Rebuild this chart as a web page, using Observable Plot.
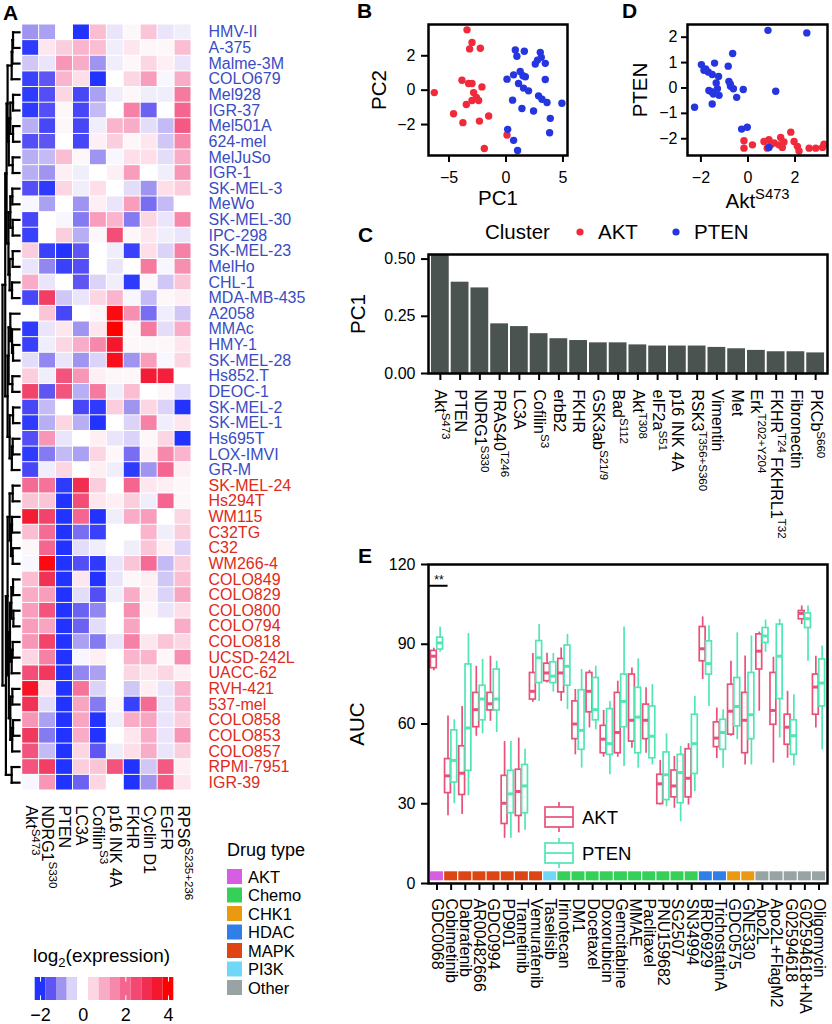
<!DOCTYPE html>
<html><head><meta charset="utf-8">
<script src="https://cdn.jsdelivr.net/npm/d3@7"></script>
<script src="https://cdn.jsdelivr.net/npm/@observablehq/plot@0.6"></script>
<style>
body{margin:0;background:#fff;}
#fig{position:relative;width:832px;height:1024px;overflow:hidden;background:#fff;font-family:"Liberation Sans",Arial,Helvetica,sans-serif;}
</style></head><body><div id="fig"></div>
<script>
// ---------------- DATA ----------------
const cellLines = ["HMV-II","A-375","Malme-3M","COLO679","Mel928","IGR-37","Mel501A","624-mel","MelJuSo","IGR-1","SK-MEL-3","MeWo","SK-MEL-30","IPC-298","SK-MEL-23","MelHo","CHL-1","MDA-MB-435","A2058","MMAc","HMY-1","SK-MEL-28","Hs852.T","DEOC-1","SK-MEL-2","SK-MEL-1","Hs695T","LOX-IMVI","GR-M","SK-MEL-24","Hs294T","WM115","C32TG","C32","WM266-4","COLO849","COLO829","COLO800","COLO794","COLO818","UCSD-242L","UACC-62","RVH-421","537-mel","COLO858","COLO853","COLO857","RPMI-7951","IGR-39"];
const lineCluster = ["PTEN","PTEN","PTEN","PTEN","PTEN","PTEN","PTEN","PTEN","PTEN","PTEN","PTEN","PTEN","PTEN","PTEN","PTEN","PTEN","PTEN","PTEN","PTEN","PTEN","PTEN","PTEN","PTEN","PTEN","PTEN","PTEN","PTEN","PTEN","PTEN","AKT","AKT","AKT","AKT","AKT","AKT","AKT","AKT","AKT","AKT","AKT","AKT","AKT","AKT","AKT","AKT","AKT","AKT","AKT","AKT"];
const heatMarkers = ["Akt^{S473}","NDRG1^{S330}","PTEN","LC3A","Cofilin^{S3}","p16 INK 4A","FKHR","Cyclin D1","EGFR","RPS6^{S235+236}"];
const heatValues = [
 [-1.0,-0.9,0,-2.0,0.8,-0.3,0.1,0.7,-0.3,-0.2],
 [-1.9,0.3,0.6,0.9,0.8,-0.2,0.3,0.1,0.1,0.8],
 [-0.6,-0.3,1.3,1.0,-1.0,-0.2,0.1,0.5,0.2,-0.3],
 [-1.8,-1.5,0.9,0.4,-2.0,0,0.5,1.2,-0.1,1.0],
 [-1.9,-1.6,0.5,-1.7,-0.9,-0.2,0.1,-0.2,-0.2,1.7],
 [-1.9,-1.6,0.1,-1.7,-0.7,0,1.6,-1.4,0,2.0],
 [-0.8,-1.7,0.1,-1.7,-0.2,0.9,1.0,-0.4,-0.7,2.2],
 [-1.6,-1.5,0,-1.7,0.2,0.6,0.1,0.3,-0.6,1.5],
 [-0.8,-0.7,0.8,0.1,-1.0,-0.1,0.4,0.4,-0.4,1.0],
 [-0.8,-1.0,0.2,-0.2,0,0.2,1.2,0,-0.2,1.3],
 [-1.6,-1.9,0.5,-0.2,0.4,0,-0.4,-1.0,0.4,0.6],
 [-0.1,-0.9,0,-1.0,0.2,-0.3,1.2,-1.3,-0.7,0],
 [-1.7,0,-0.1,-1.2,1.2,0.9,-1.2,0.5,-0.3,1.5],
 [-1.8,0,0.6,-0.8,0.1,2.4,0.1,0.3,-0.2,-0.3],
 [0.6,-1.8,-2.2,-1.5,0,-0.2,-1.8,0.4,-0.5,1.6],
 [-0.3,-1.1,-1.8,-1.6,0,-0.3,0,1.7,-0.1,1.4],
 [1.0,-0.3,0,-1.5,-0.5,-0.2,-1.9,0.1,-0.6,0.7],
 [-1.7,2.7,-0.6,-0.3,0.5,0.9,-0.1,-0.7,0.1,0.2],
 [0,0.7,-1.7,0,0.1,3.8,1.4,-1.3,-0.2,-0.6],
 [-1.9,-0.3,0.3,-1.0,0.3,4.2,0.1,1.7,-0.4,1.0],
 [-1.8,-0.2,0.5,1.0,1.5,3.5,0.1,0.1,0.1,0.3],
 [-0.4,-1.1,-0.3,-1.0,-0.5,3.7,-1.0,1.2,-0.1,0.5],
 [0.6,-0.2,2.3,1.3,0.2,0.1,0.1,3.4,3.3,0],
 [2.6,-1.5,2.3,-0.8,1.7,-0.2,0.8,0,0.1,-0.4],
 [-1.7,-0.7,0,-1.7,-1.9,0.6,-1.0,0.5,-0.5,-2.1],
 [-1.9,-0.8,0.5,-0.8,-2.0,0,-0.5,1.6,-0.2,0.3],
 [-1.6,1.3,-0.3,0,0.2,-0.3,-0.5,0.1,0.5,-2.2],
 [-1.9,-1.2,-0.7,-0.9,0.5,0.1,-1.3,0.2,1.5,0.9],
 [-1.7,-0.2,0.5,0,0.2,-0.2,-1.9,-1.0,2.0,0.2],
 [1.9,1.8,-1.9,3.0,0.6,0,2.0,0.3,0.2,0.1],
 [0.7,0.7,-2.0,2.4,0.3,0.2,0.6,-0.2,2.0,0.1],
 [3.4,2.6,-2.0,2.0,-2.0,-0.2,1.0,1.2,0,0.5],
 [0.8,1.9,-2.0,-1.3,-1.8,0,0,0.9,-0.2,0.6],
 [0.1,2.0,-2.0,-0.4,-0.2,0,-0.2,0.7,0.2,-0.5],
 [-0.1,3.8,-2.0,-1.6,-1.9,-0.3,0.7,1.9,-0.7,0.6],
 [0.8,2.9,-2.0,0.3,-2.0,-0.3,0.1,0.2,-0.6,0.8],
 [1.0,1.2,-2.0,-0.4,-1.6,-0.2,1.0,0.2,-0.5,1.1],
 [1.2,2.3,-2.0,-1.4,-1.1,0,1.4,0.1,-0.3,0.4],
 [1.2,1.1,-2.0,-1.4,-0.4,0,1.1,0,0,1.0],
 [1.3,2.6,-2.0,-0.9,-1.2,-0.3,1.6,0.3,0.7,0.5],
 [0.5,1.6,-2.0,-0.1,0.2,0,0.9,0.9,0.1,1.4],
 [2.4,2.8,-2.0,-1.1,-0.9,0,0.5,0.3,0.5,0.2],
 [3.6,0.3,-2.0,1.8,-0.5,0,-0.6,0.2,-0.3,0.9],
 [2.9,-0.4,-2.0,1.1,-1.2,0.1,-1.8,1.9,-0.3,0.9],
 [1.3,-0.9,-2.0,1.1,-2.0,-0.2,1.0,1.1,-0.3,0.6],
 [2.8,-1.2,-2.0,1.0,-2.0,0,0.3,1.0,-0.3,1.3],
 [2.3,-0.7,-2.0,0.5,-1.5,-0.2,0.4,1.0,-0.3,0.6],
 [2.3,2.7,-2.0,0.6,0.7,2.3,-2.0,-0.6,2.2,0.2],
 [-0.1,1.3,-2.0,-1.4,0.5,0,-2.0,-1.0,2.2,0.3]
];
// hclust-like merges: [child, child, height]; child = leaf name or index of an earlier merge
const dendroMerges = [
 ["HMV-II","A-375",3.8],[0,"Malme-3M",4.2],[1,"COLO679",4.6],["Mel928","IGR-37",3.8],["Mel501A","624-mel",3.8],
 [3,4,5.4],["MelJuSo","IGR-1",4.0],[5,6,6.3],[2,7,7.0],["SK-MEL-3","MeWo",4.2],
 ["SK-MEL-30","IPC-298",4.0],[9,10,5.4],["SK-MEL-23","MelHo",4.0],["CHL-1","MDA-MB-435",4.4],[12,13,5.8],
 [11,14,6.5],[8,15,7.6],["HMY-1","SK-MEL-28",3.8],["MMAc",17,4.4],["A2058",18,5.4],
 ["Hs852.T","DEOC-1",4.2],[19,20,6.4],["SK-MEL-2","SK-MEL-1",3.8],["Hs695T","LOX-IMVI",4.0],[23,"GR-M",4.5],
 [22,24,5.8],[21,25,7.0],[16,26,8.4],["SK-MEL-24","Hs294T",4.0],["WM115","C32TG",4.4],
 ["C32","WM266-4",4.0],[29,30,5.0],[28,31,5.8],["COLO849","COLO829",3.8],["COLO800","COLO794",3.6],
 [33,34,4.8],["COLO818","UCSD-242L",4.0],[36,"UACC-62",4.6],[35,37,5.6],["RVH-421","537-mel",4.2],
 ["COLO858","COLO853",3.8],[40,"COLO857",4.3],[39,41,5.4],[38,42,6.3],[32,43,7.0],
 ["RPMI-7951","IGR-39",4.6],[44,45,8.0],[27,46,10]
];
const heatDomain = [-2,-1.5,-1,-0.5,0,0.5,1,1.5,2,2.5,3,3.5,4];
const heatRange = ["#2233ff","#5f55f2","#9f94f0","#dcd4f8","#ffffff","#fcd6e3","#f9acc7","#f688ac","#f4658f","#f24871","#f12d50","#f4182e","#ff0000"];
const legendBins = [-2,-1.5,-1,-0.5,0,0.5,1,1.5,2,2.5,3,3.5,4];
const legendTicks = [-2,0,2,4];

// Panel B: PCA
const pc1 = [-3.42,-2.98,-3.19,-2.25,-6.29,-3.86,-3.28,-2.98,-2.11,-2.84,-2.6,-2.98,-2.4,-3.48,-4.6,-3.78,-2.33,-1.52,-1.9,0.09,
 0.82,1.61,0.96,3.01,2.77,3.1,2.57,3.45,0.09,0.67,1.25,1.49,1.7,3.45,1.1,1.54,1.98,2.86,3.16,3.6,4.91,0.58,1.4,2.42,3.89,3.83,0.15,0.67,1.02];
const pc2 = [3.51,2.78,2.4,2.44,-0.14,0.58,0.39,0.39,0.19,-0.14,-0.43,-0.6,-0.6,-0.83,-1.37,-1.89,-1.8,-1.5,-3.39,-2.61,
 2.34,2.26,1.97,2.2,1.75,1.91,1.52,1.56,0.64,0.89,1.09,0.84,0.78,0.62,0.39,0.12,-0.04,-0.33,-0.53,-0.72,-0.76,-0.58,-1.07,-1.21,-1.64,-2.48,-2.28,-2.92,-3.51];
const pcCluster = [...Array(20).fill("AKT"), ...Array(29).fill("PTEN")];

// Panel D: Akt S473 vs PTEN
const dAkt = [-0.17,-0.17,0.19,0.68,0.89,0.82,1.11,1.32,1.39,1.46,1.82,1.96,2.1,2.17,2.6,2.88,3.17,3.23,0.97,1.53,
 -1.98,-1.42,-0.84,-0.65,-1.87,-1.69,-1.52,-1.35,-0.81,-0.74,-0.62,-0.2,-1.66,-1.47,-1.3,-1.23,-1.52,-0.48,-2.27,-0.27,-0.03,0.89,1.18,0.85,2.5,-1.8,-1.25,-0.75,-1.55];
const dPten = [-2.08,-2.37,-2.24,-2.11,-2.04,-2.37,-2.17,-2.24,-1.95,-2.34,-1.74,-2.11,-2.3,-2.48,-2.37,-2.37,-2.34,-2.21,-2.24,-2.13,
 0.92,0.98,0.86,1.36,0.7,0.63,0.53,0.2,0.26,0.07,-0.03,-0.06,-0.1,-0.24,-0.03,-0.29,-0.63,-0.37,-0.76,-1.62,-1.55,-2.34,-0.13,2.27,2.17,0.75,0.45,0.15,-0.15];
const dCluster = [...Array(20).fill("AKT"), ...Array(29).fill("PTEN")];

// Panel C: PC1 loadings
const loadNames = ["Akt^{S473}","PTEN","NDRG1^{S330}","PRAS40^{T246}","LC3A","Cofilin^{S3}","erbB2","FKHR","GSK3ab^{S21/9}","Bad^{S112}","Akt^{T308}","eIF2a^{S51}","p16 INK 4A","RSK3^{T356+S360}","Vimentin","Met","Erk^{T202+Y204}","FKHR^{T24} FKHRL1^{T32}","Fibronectin","PKCb^{S660}"];
const loadValues = [0.52,0.399,0.374,0.217,0.205,0.174,0.152,0.144,0.134,0.134,0.125,0.12,0.12,0.12,0.114,0.108,0.101,0.095,0.095,0.09];

// Panel E: drug AUC box statistics [lower whisker, Q1, median, Q3, upper whisker]
const drugs = ["GDC0068","Cobimetinib","Dabrafenib","AR00482666","GDC0994","PD901","Trametinib","Vemurafenib","Taselisib","Irinotecan","DM1","Docetaxel","Doxorubicin","Gemcitabine","MMAE","Paclitaxel","PNU159682","SG2507","SN34994","BRD6929","TrichostatinA","GDC0575","GNE330","Apo2L","Apo2L+FlagM2","G02594618","G02594618+NA","Oligomycin"];
const drugType = ["AKT","MAPK","MAPK","MAPK","MAPK","MAPK","MAPK","MAPK","PI3K","Chemo","Chemo","Chemo","Chemo","Chemo","Chemo","Chemo","Chemo","Chemo","Chemo","HDAC","HDAC","CHK1","CHK1","Other","Other","Other","Other","Other"];
const aktBox = [
 [80,81,85.5,87.5,88.5],[25.5,34,40.5,46.8,63],[26,33.3,41.5,51.6,66.6],[55.4,58.8,65.4,71.7,81.7],[61,65.1,67.6,71.7,85.5],
 [17,22.4,30.2,40.5,53.4],[19,25.4,34.6,42.8,54.7],[68.2,69.2,72.3,79.2,86.5],[75.4,76.1,79.2,82.7,86.6],[68.5,71.9,79.2,84.5,88.6],
 [48.4,54.3,60,68.5,73],[58.5,64.4,72.3,79.2,80.2],[47.5,49,54.3,59.3,65.1],[47.5,49,56.8,71.7,76.1],[50.9,53.4,61.4,78.6,81.1],
 [49,54.3,61.4,67.3,73.6],[29.5,29.9,37.5,40.9,46.3],[28.3,32.4,36.7,42.5,47.8],[29.5,32.4,39.6,50.5,52.6],[76.7,83.6,88.3,96.5,100.3],
 [47,51.3,54.7,60.6,66],[55.4,56,64.8,74.8,83.6],[44.6,49,61.4,71.7,85.6],[64.8,80.5,87.4,93.7,94.6],[45.3,59.7,65.1,79.2,85.1],
 [47.1,52.2,58.8,63.5,72.3],[97.4,99.4,101.6,102.5,104.4],[58.5,63.5,73.9,78.6,85.5]
];
const ptenBox = [
 [87,88,90.5,92.5,96.5],[30,38,46.3,57.6,61.6],[33,42.4,58.5,82.4,94],[56.3,61.4,69.4,74.4,84.3],[56.8,65.1,69.4,80.5,83.6],
 [17,26.4,33.7,42.4,53.4],[20,26.4,36.7,44.6,50.5],[68.5,75.4,84.9,91.2,97.4],[72,75.4,78,83.2,86.5],[65.4,74.4,81.7,89.5,93.7],
 [43.4,50.3,57.6,72.7,80.5],[57.8,61.4,65.4,77.3,81.7],[40.9,48.4,52.6,65.6,68.5],[44,58.8,68.5,78.6,96.5],[43.4,49,62.6,73.6,84.5],
 [44.6,47.1,55.4,66.6,74.8],[28.9,31.4,40.9,49.3,56.3],[23.2,30.2,41.7,48.4,51.6],[34.6,41.2,52.6,63.5,70.4],[66.6,78.6,82.7,91.1,97],
 [43.4,50.3,56.8,61.6,65.4],[54.1,59.1,66.6,77.3,94.3],[44.6,54.3,63.5,79.2,93.1],[87,90.5,93.1,96.1,99.1],[54.7,69.4,85.5,97.4,99.4],
 [44.3,48.4,55.6,61.4,71],[83.6,96.1,99.6,101.6,104.4],[50.3,66.6,75.4,84.3,89.3]
];
const sigDrugs = ["GDC0068"];
const sigLevels = [112];
const sigLabels = ["**"];
const drugTypeNames = ["AKT","Chemo","CHK1","HDAC","MAPK","PI3K","Other"];
const drugTypeColors = ["#d65ee3","#34d058","#e99a10","#2f7fe6","#dd4614","#6fd8f6","#98a3a3"];
const clusterNames = ["AKT","PTEN"];
const clusterColors = ["#f02a3a","#2535e0"];
const boxColors = ["#e8527a","#52e6b5"];
const labelColors = ["#e02a20","#3a4cc4"];

// ---------------- HELPERS ----------------
const FONT = '"Liberation Sans", Arial, Helvetica, sans-serif';
const fig = document.getElementById("fig");
const baseStyle = {background: "transparent", fontFamily: FONT, color: "black", overflow: "visible"};
const intFmt = d3.format("d");
function place(node, left, top) {
  node.style.position = "absolute";
  node.style.left = left + "px";
  node.style.top = top + "px";
  node.style.maxWidth = "none";
  fig.appendChild(node);
  return node;
}
function richify(root) {
  d3.select(root).selectAll("text").each(function() {
    const t = this.textContent;
    if (!/[\^_]\{/.test(t)) return;
    const fs = parseFloat(getComputedStyle(this).fontSize) || 16;
    const sel = d3.select(this);
    sel.text(null);
    const re = /([\^_])\{([^}]*)\}/g;
    let last = 0, m, shift = 0;
    const add = (str, dy, small) => {
      const ts = sel.append("tspan").text(str);
      if (dy) ts.attr("dy", dy);
      if (small) ts.attr("font-size", fs * 0.72);
    };
    while ((m = re.exec(t))) {
      if (m.index > last) { add(t.slice(last, m.index), -shift, false); shift = 0; }
      const s = m[1] === "^" ? -0.42 * fs : 0.25 * fs;
      add(m[2], s - shift, true); shift = s;
      last = re.lastIndex;
    }
    if (last < t.length) add(t.slice(last), -shift, false);
  });
}
const heatColor = {type: "linear", domain: heatDomain, range: heatRange, clamp: true, interpolate: "rgb"};
const title = (txt, opts) => Plot.text([txt], {textAnchor: "middle", lineAnchor: "middle", fontSize: 20.5, ...opts});

// ---------------- PANEL A: dendrogram ----------------
const leafPos = new Map(cellLines.map((n, i) => [n, i + 0.5]));
const dNodes = [], dendroSegs = [];
for (const [a, b, h] of dendroMerges) {
  const pa = typeof a === "string" ? {y: leafPos.get(a), h: 0} : dNodes[a];
  const pb = typeof b === "string" ? {y: leafPos.get(b), h: 0} : dNodes[b];
  dendroSegs.push({x1: pa.h, y1: pa.y, x2: h, y2: pa.y});
  dendroSegs.push({x1: pb.h, y1: pb.y, x2: h, y2: pb.y});
  dendroSegs.push({x1: h, y1: pa.y, x2: h, y2: pb.y});
  dNodes.push({y: (pa.y + pb.y) / 2, h});
}
place(Plot.plot({
  width: 22, height: 920, marginLeft: 2, marginRight: 3, marginTop: 24, marginBottom: 130,
  style: baseStyle,
  x: {domain: [10, 0], axis: null},
  y: {domain: [0, cellLines.length], reverse: true, axis: null},
  marks: [Plot.link(dendroSegs, {x1: "x1", y1: "y1", x2: "x2", y2: "y2", stroke: "black", strokeWidth: 2.2, strokeLinecap: "square"})]
}), 0, 0);

// ---------------- PANEL A: heatmap ----------------
const heatTable = cellLines.flatMap((line, i) => heatMarkers.map((mk, j) => ({line, marker: mk, v: heatValues[i][j]})));
const ptenLines = cellLines.filter((d, i) => lineCluster[i] === "PTEN");
const aktLines = cellLines.filter((d, i) => lineCluster[i] === "AKT");
place(Plot.plot({
  width: 340, height: 920, marginLeft: 21.7, marginRight: 149, marginTop: 24, marginBottom: 130,
  style: baseStyle,
  x: {domain: heatMarkers, padding: 0, round: false},
  y: {domain: cellLines, padding: 0, round: false, axis: null},
  color: heatColor,
  marks: [
    Plot.cell(heatTable, {x: "marker", y: "line", fill: "v", inset: 0.5}),
    Plot.text(ptenLines, {y: d => d, frameAnchor: "right", textAnchor: "start", lineAnchor: "middle", dx: 17, fill: labelColors[1], fontSize: 16}),
    Plot.text(aktLines, {y: d => d, frameAnchor: "right", textAnchor: "start", lineAnchor: "middle", dx: 17, fill: labelColors[0], fontSize: 16}),
    Plot.axisX({anchor: "bottom", tickSize: 0, tickPadding: 15, tickRotate: 90, fontSize: 16, label: null})
  ]
}), 0, 0);

// heatmap colour legend
place(Plot.plot({
  width: 200, height: 54, marginLeft: 34.7, marginRight: 26.7, marginTop: 7, marginBottom: 24,
  style: baseStyle,
  x: {domain: [-2.25, 4.25]},
  y: {domain: [0, 1], axis: null},
  color: heatColor,
  marks: [
    Plot.rect(legendBins, {x1: d => d - 0.25, x2: d => d + 0.25, y1: 0, y2: 1, fill: d => d}),
    Plot.ruleX(legendTicks, {y1: 0, y2: 0.2, stroke: "white", strokeWidth: 1}),
    Plot.ruleX(legendTicks, {y1: 0.8, y2: 1, stroke: "white", strokeWidth: 1}),
    Plot.axisX({ticks: legendTicks, tickFormat: intFmt, tickSize: 0, tickPadding: 8, fontSize: 18, label: null})
  ]
}), 0, 970);

// ---------------- PANEL B ----------------
const pcRows = pc1.map((x, i) => ({pc1: x, pc2: pc2[i], cluster: pcCluster[i]}));
place(Plot.plot({
  width: 240, height: 210, marginLeft: 88, marginRight: 13, marginTop: 24, marginBottom: 55,
  style: baseStyle,
  x: {domain: [-6.8, 5.4]},
  y: {domain: [-3.8, 3.82]},
  color: {domain: clusterNames, range: clusterColors},
  marks: [
    Plot.dot(pcRows, {x: "pc1", y: "pc2", fill: "cluster", r: 3.7}),
    Plot.frame({stroke: "black", strokeWidth: 2.5}),
    Plot.axisX({ticks: [-5, 0, 5], tickFormat: intFmt, tickSize: 7, tickPadding: 9, fontSize: 16, strokeWidth: 2, label: null}),
    Plot.axisY({ticks: [-2, 0, 2], tickFormat: intFmt, tickSize: 7, tickPadding: 6, fontSize: 16, strokeWidth: 2, label: null}),
    title("PC1", {frameAnchor: "bottom", dy: 43}),
    title("PC2", {frameAnchor: "left", dx: -49, rotate: -90})
  ]
}), 340, 0);

// ---------------- PANEL D ----------------
const dRows = dAkt.map((x, i) => ({akt: x, pten: dPten[i], cluster: dCluster[i]}));
place(Plot.plot({
  width: 232, height: 210, marginLeft: 87, marginRight: 5, marginTop: 24, marginBottom: 55,
  style: baseStyle,
  x: {domain: [-2.57, 3.38]},
  y: {domain: [-2.66, 2.5]},
  color: {domain: clusterNames, range: clusterColors},
  marks: [
    Plot.dot(dRows, {x: "akt", y: "pten", fill: "cluster", r: 3.7}),
    Plot.frame({stroke: "black", strokeWidth: 2.5}),
    Plot.axisX({ticks: [-2, 0, 2], tickFormat: intFmt, tickSize: 7, tickPadding: 9, fontSize: 16, strokeWidth: 2, label: null}),
    Plot.axisY({ticks: [-2, -1, 0, 1, 2], tickFormat: intFmt, tickSize: 6, tickPadding: 4, fontSize: 16, strokeWidth: 2, label: null}),
    title("Akt^{S473}", {frameAnchor: "bottom", dy: 46}),
    title("PTEN", {frameAnchor: "left", dx: -47, rotate: -90})
  ]
}), 600, 0);

// ---------------- PANEL C ----------------
const loadRows = loadNames.map((n, i) => ({name: n, v: loadValues[i]}));
place(Plot.plot({
  width: 492, height: 350, marginLeft: 88, marginRight: 5, marginTop: 54, marginBottom: 177,
  style: baseStyle,
  x: {domain: loadNames, paddingInner: 0.1, paddingOuter: 0.15, round: false},
  y: {domain: [0, 0.52]},
  marks: [
    Plot.barY(loadRows, {x: "name", y: "v", fill: "#4b5351"}),
    Plot.frame({stroke: "black", strokeWidth: 2.5}),
    Plot.axisY({ticks: [0, 0.25, 0.5], tickFormat: ".2f", tickSize: 7, tickPadding: 6, fontSize: 16, strokeWidth: 2, label: null}),
    Plot.axisX({tickSize: 7, tickPadding: 9, tickRotate: 90, fontSize: 16, strokeWidth: 2, label: null}),
    title("PC1", {frameAnchor: "left", dx: -70, rotate: -90})
  ]
}), 340, 200);

// ---------------- PANEL E ----------------
const drugRows = drugs.map((d, i) => ({drug: d, type: drugType[i]}));
const mkBox = (stats) => drugs.map((d, i) => ({drug: d, lo: stats[i][0], q1: stats[i][1], med: stats[i][2], q3: stats[i][3], hi: stats[i][4]}));
const aktRows = mkBox(aktBox), ptenRows = mkBox(ptenBox);
const sigRows = sigDrugs.map((d, i) => ({drug: d, y: sigLevels[i], label: sigLabels[i]}));
function boxMarks(rows, color, side) {
  const off = side * 3.15;
  const inL = side < 0 ? 1 : 7.3, inR = side < 0 ? 7.3 : 1;
  return [
    Plot.ruleX(rows, {x: "drug", y1: "lo", y2: "q1", stroke: color, strokeWidth: 1.7, dx: off}),
    Plot.ruleX(rows, {x: "drug", y1: "q3", y2: "hi", stroke: color, strokeWidth: 1.7, dx: off}),
    Plot.barY(rows, {x: "drug", y1: "q1", y2: "q3", fill: "white", stroke: color, strokeWidth: 1.7, insetLeft: inL, insetRight: inR}),
    Plot.tickY(rows, {x: "drug", y: "med", stroke: color, strokeWidth: 3, insetLeft: inL, insetRight: inR})
  ];
}
place(Plot.plot({
  width: 492, height: 479, marginLeft: 88, marginRight: 5, marginTop: 19, marginBottom: 141,
  style: baseStyle,
  x: {domain: drugs, paddingInner: 0, paddingOuter: 0.1, round: false},
  y: {domain: [0, 120]},
  color: {domain: drugTypeNames, range: drugTypeColors},
  marks: [
    ...boxMarks(aktRows, boxColors[0], -1),
    ...boxMarks(ptenRows, boxColors[1], 1),
    Plot.barY(drugRows, {x: "drug", y1: 1, y2: 4.4, fill: "type", insetLeft: 0.6, insetRight: 0.6}),
    Plot.tickY(sigRows, {x: "drug", y: "y", stroke: "black", strokeWidth: 2, insetLeft: -1, insetRight: -4}),
    Plot.text(sigRows, {x: "drug", y: "y", text: "label", dy: -6, dx: 2, fontSize: 12}),
    Plot.frame({stroke: "black", strokeWidth: 2.5}),
    Plot.axisY({ticks: [0, 30, 60, 90, 120], tickSize: 7, tickPadding: 6, fontSize: 16, strokeWidth: 2, label: null}),
    Plot.axisX({tickSize: 7, tickPadding: 8, tickRotate: 90, fontSize: 16, strokeWidth: 2, label: null}),
    title("AUC", {frameAnchor: "left", dx: -71, rotate: -90})
  ]
}), 340, 545);

// ---------------- OVERLAY: panel letters & legends ----------------
const ov = d3.create("svg").attr("width", 832).attr("height", 1024)
  .attr("font-family", FONT).style("position", "absolute").style("left", "0px").style("top", "0px");
const letters = [["A", 3, 20], ["B", 357, 18], ["D", 622, 18], ["C", 358, 242], ["E", 358, 563]];
for (const [t, x, y] of letters) ov.append("text").attr("x", x).attr("y", y).attr("font-size", 21).attr("font-weight", "bold").text(t);

// cluster legend
const cl = ov.append("g").attr("font-size", 20.5);
cl.append("text").attr("x", 485).attr("y", 239).text("Cluster");
const clX = [[580, 598], [676, 694]];
clusterNames.forEach((n, i) => {
  cl.append("circle").attr("cx", clX[i][0]).attr("cy", 232).attr("r", 3.6).attr("fill", clusterColors[i]);
  cl.append("text").attr("x", clX[i][1]).attr("y", 239).text(n);
});

// drug type legend
const dl = ov.append("g").attr("font-size", 16.5);
dl.append("text").attr("x", 227).attr("y", 856).attr("font-size", 18).text("Drug type");
drugTypeNames.forEach((n, i) => {
  const y = 869 + i * 18.5;
  dl.append("rect").attr("x", 227).attr("y", y).attr("width", 15).attr("height", 15).attr("fill", drugTypeColors[i]);
  dl.append("text").attr("x", 248).attr("y", y + 13.5).text(n);
});

// E box legend
clusterNames.forEach((n, i) => {
  const top = 807 + i * 36, cx = 559;
  const g = ov.append("g").attr("stroke", boxColors[i]).attr("stroke-width", 1.7).attr("fill", "none");
  g.append("line").attr("x1", cx).attr("x2", cx).attr("y1", top - 5).attr("y2", top);
  g.append("line").attr("x1", cx).attr("x2", cx).attr("y1", top + 20).attr("y2", top + 25);
  g.append("rect").attr("x", 545).attr("y", top).attr("width", 28).attr("height", 20);
  g.append("line").attr("x1", 545).attr("x2", 573).attr("y1", top + 10).attr("y2", top + 10);
  ov.append("text").attr("x", 582).attr("y", top + 17).attr("font-size", 18.5).text(n);
});

// heat legend title
const lt = ov.append("text").attr("x", 33).attr("y", 962).attr("font-size", 19);
lt.append("tspan").text("log");
lt.append("tspan").attr("dy", 5).attr("font-size", 13).text("2");
lt.append("tspan").attr("dy", -5).text("(expression)");

fig.appendChild(ov.node());
richify(fig);
</script></body></html>
